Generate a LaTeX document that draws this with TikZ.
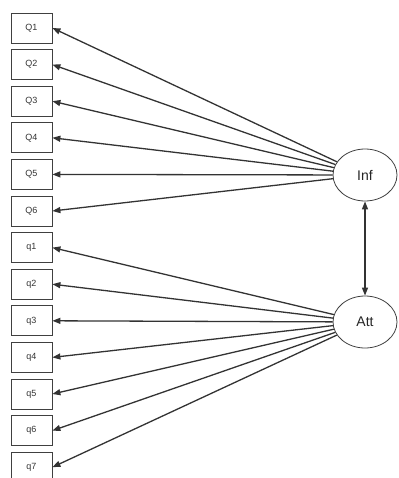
\documentclass[tikz,border=0pt]{standalone}
\usepackage{fontspec}
\setmainfont{Liberation Sans}
\usetikzlibrary{arrows.meta,shapes.geometric}
\begin{document}
\begin{tikzpicture}[x=1pt,y=-1pt,
  item/.style={draw=black!75,line width=0.8pt,minimum width=41pt,minimum height=30pt,inner sep=0pt,font=\fontsize{9}{10}\selectfont,text=black!80},
  latent/.style={draw=black!75,line width=0.8pt,ellipse,minimum width=64pt,minimum height=52pt,inner sep=0pt,font=\fontsize{14}{16}\selectfont,text=black!85},
  load/.style={draw=black!80,line width=1.3pt,-{Triangle[length=8pt,width=6pt]}},
  cov/.style={draw=black!80,line width=1.3pt,{Triangle[length=8pt,width=6pt]}-{Triangle[length=8pt,width=6pt]}}]
\useasboundingbox (0,0) rectangle (398,478);
\begin{scope}
\clip (0,0) rectangle (398,478);
\foreach \n [count=\i from 0] in {Q1,Q2,Q3,Q4,Q5,Q6,q1,q2,q3,q4,q5,q6,q7}{
  \node[item] (\n) at (31.5,{28+36.6*\i}) {\n};
}
\node[latent] (Inf) at (365,175) {Inf};
\node[latent] (Att) at (365,322) {Att};
\foreach \n in {Q1,Q2,Q3,Q4,Q5,Q6}{ \draw[load] (Inf) -- (\n.east); }
\foreach \n in {q1,q2,q3,q4,q5,q6,q7}{ \draw[load] (Att) -- (\n.east); }
\draw[cov] (Inf.south) -- (Att.north);
\end{scope}
\end{tikzpicture}
\end{document}
